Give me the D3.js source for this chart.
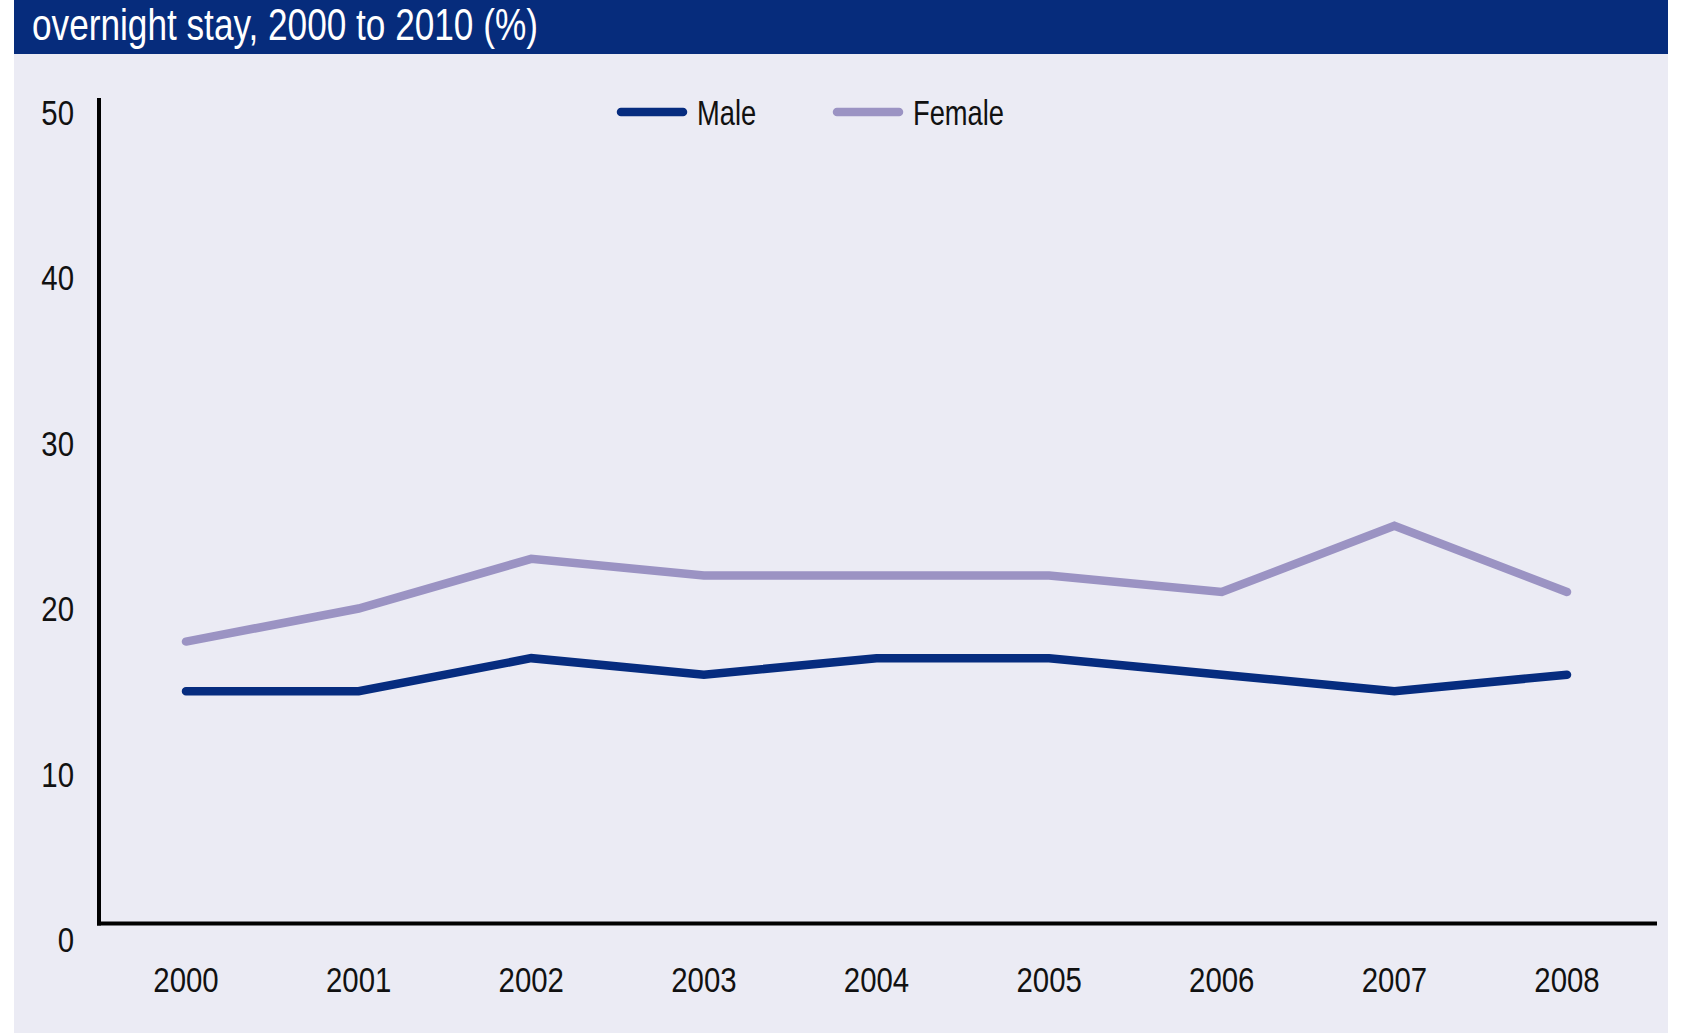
<!DOCTYPE html>
<meta charset="utf-8">
<head>
    <title>overnight stay, 2000 to 2010 (%)</title>
    <script type="text/javascript" src="https://d3js.org/d3.v7.min.js"></script>
    <style>
        body { margin: 0; background: #fff; }
        text { font-family: "Liberation Sans", Arial, sans-serif; fill: #111; }
    </style>
</head>
<body>
<script>
    // data
    var years = ["2000", "2001", "2002", "2003", "2004", "2005", "2006", "2007", "2008"];
    var male = [15, 15, 17, 16, 17, 17, 16, 15, 16];
    var female = [18, 20, 23, 22, 22, 22, 21, 25, 21];
    var yTicks = [0, 10, 20, 30, 40, 50];
    var seriesNames = ["Male", "Female"];
    var titleText = "overnight stay, 2000 to 2010 (%)";

    var width = 1686, height = 1036;
    var colors = {"Male": "#062c7f", "Female": "#9b93c3"};
    // no condensed font available -> squeeze a normal one
    var squeeze = 0.84;

    var svg = d3.select("body").append("svg")
        .attr("width", width)
        .attr("height", height);

    // panel + title bar
    svg.append("rect").attr("x", 14).attr("y", 0).attr("width", 1654).attr("height", 1033)
        .attr("fill", "#ebebf4");
    svg.append("rect").attr("x", 14).attr("y", 0).attr("width", 1654).attr("height", 54)
        .attr("fill", "#062c7c");
    svg.append("text")
        .attr("transform", "translate(32,40) scale(0.8,1)")
        .style("font-size", "44px")
        .style("fill", "#fff")
        .text(titleText);

    var x = d3.scalePoint().domain(years).range([186, 1567]);
    var y = d3.scaleLinear().domain([0, 50]).range([939.5, 112]);

    // axes lines (drawn a little above the label positions, as in the original)
    svg.append("line")
        .attr("x1", 99).attr("x2", 99)
        .attr("y1", y(50) - 14).attr("y2", y(0) - 14)
        .attr("stroke", "#000").attr("stroke-width", 4);
    svg.append("line")
        .attr("x1", 97).attr("x2", 1657)
        .attr("y1", y(0) - 16).attr("y2", y(0) - 16)
        .attr("stroke", "#000").attr("stroke-width", 4);

    // y labels
    svg.append("g").selectAll("text")
        .data(yTicks).enter()
        .append("text")
        .attr("transform", d => "translate(74," + y(d) + ") scale(" + squeeze + ",1)")
        .attr("dy", "0.36em")
        .attr("text-anchor", "end")
        .style("font-size", "35px")
        .text(d => d);

    // x labels
    svg.append("g").selectAll("text")
        .data(years).enter()
        .append("text")
        .attr("transform", d => "translate(" + x(d) + ",992) scale(" + squeeze + ",1)")
        .attr("text-anchor", "middle")
        .style("font-size", "35px")
        .text(d => d);

    var line = d3.line()
        .x((d, i) => x(years[i]))
        .y(d => y(d));

    [["Female", female], ["Male", male]].forEach(function (s) {
        svg.append("path")
            .datum(s[1])
            .attr("d", line)
            .attr("fill", "none")
            .attr("stroke", colors[s[0]])
            .attr("stroke-width", 8.5)
            .attr("stroke-linecap", "round")
            .attr("stroke-linejoin", "miter");
    });

    // legend
    var legend = svg.append("g").selectAll("g")
        .data(seriesNames).enter()
        .append("g")
        .attr("transform", (d, i) => "translate(" + (621 + i * 216) + ",112)");
    legend.append("line")
        .attr("x1", 0).attr("x2", 62)
        .attr("stroke", d => colors[d])
        .attr("stroke-width", 8.5)
        .attr("stroke-linecap", "round");
    legend.append("text")
        .attr("transform", "translate(76,0) scale(0.78,1)")
        .attr("dy", "0.36em")
        .style("font-size", "35px")
        .text(d => d);
</script>
</body>
</html>
